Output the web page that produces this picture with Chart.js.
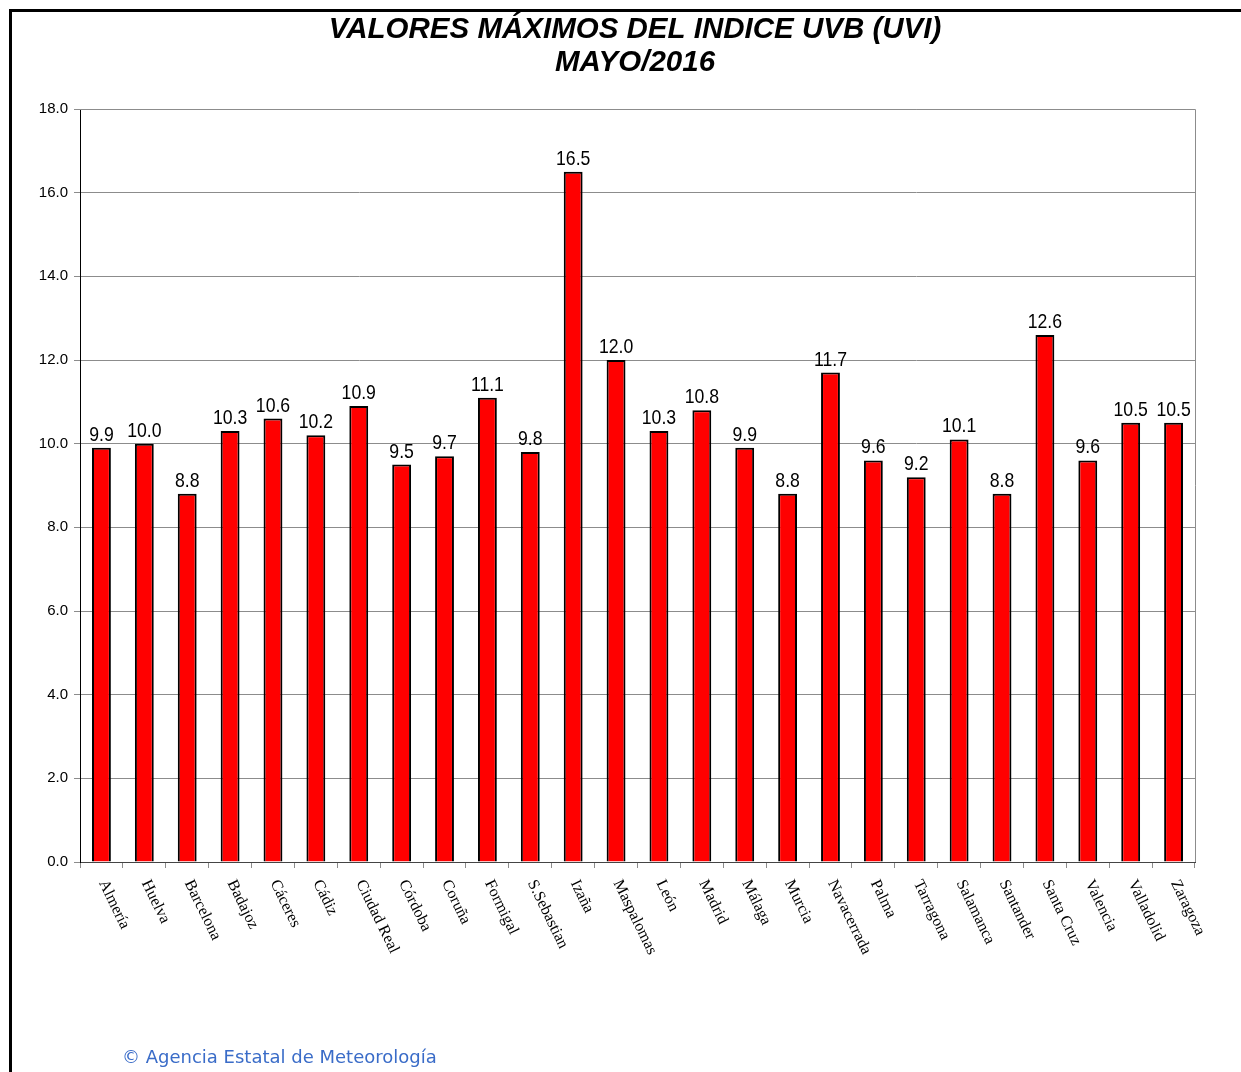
<!DOCTYPE html>
<html>
<head>
<meta charset="utf-8">
<script src="https://cdn.jsdelivr.net/npm/chart.js@4/dist/chart.umd.min.js"></script>
<style>
  body { margin: 0; background: #fff; }
  #wrap { position: relative; width: 1241px; height: 1072px; overflow: hidden; }
  #frame { position: absolute; left: 9px; top: 9px; width: 1240px; height: 1070px;
           border-top: 3px solid #000; border-left: 3px solid #000; }
  #myChart { position: absolute; left: 0; top: 0; }
  #foot { position: absolute; left: 122px; top: 1046px; font: 18px "DejaVu Sans", sans-serif;
          color: #3a6cc8; }
</style>
</head>
<body>
<div id="wrap">
  <div id="frame"></div>
  <canvas id="myChart" width="1241" height="1072"></canvas>
  <div id="foot">&copy; Agencia Estatal de Meteorología</div>
</div>
<script>
/*----data----*/
const stations = ["Almería","Huelva","Barcelona","Badajoz","Cáceres","Cádiz","Ciudad Real","Córdoba","Coruña","Formigal","S.Sebastian","Izaña","Maspalomas","León","Madrid","Málaga","Murcia","Navacerrada","Palma","Tarragona","Salamanca","Santander","Santa Cruz","Valencia","Valladolid","Zaragoza"];
const uviMax = [9.9,10.0,8.8,10.3,10.6,10.2,10.9,9.5,9.7,11.1,9.8,16.5,12.0,10.3,10.8,9.9,8.8,11.7,9.6,9.2,10.1,8.8,12.6,9.6,10.5,10.5];
const titleLines = ["VALORES MÁXIMOS DEL INDICE UVB (UVI)","MAYO/2016"];

/*----extras drawn on top: title, frame of plot, value labels, station names----*/
const extras = {
  id: "extras",
  afterDraw(chart) {
    const ctx = chart.ctx;
    const area = chart.chartArea;
    const x = chart.scales.x, y = chart.scales.y;
    ctx.save();
    // title
    ctx.fillStyle = "#000";
    ctx.font = "italic bold 29.5px 'Liberation Sans', Arial, sans-serif";
    ctx.textAlign = "center";
    ctx.textBaseline = "middle";
    ctx.fillText(titleLines[0], 635, 30);
    ctx.fillText(titleLines[1], 635, 63);
    // top and right border of plot
    ctx.strokeStyle = "#8c8c8c";
    ctx.lineWidth = 1;
    ctx.beginPath();
    ctx.moveTo(area.left, area.top + 0.5);
    ctx.lineTo(area.right + 0.5, area.top + 0.5);
    ctx.lineTo(area.right + 0.5, area.bottom);
    ctx.stroke();
    // value labels (narrow like the original)
    ctx.font = "21px 'Liberation Sans', Arial, sans-serif";
    ctx.textBaseline = "alphabetic";
    uviMax.forEach(function(v, i){
      ctx.save();
      ctx.translate(x.getPixelForValue(i), y.getPixelForValue(v) - 7);
      ctx.scale(0.84, 1);
      ctx.fillText(v.toFixed(1), 0, 0);
      ctx.restore();
    });
    // station names, rotated clockwise
    ctx.font = "16px 'Liberation Serif', 'Times New Roman', serif";
    ctx.textAlign = "left";
    ctx.textBaseline = "middle";
    stations.forEach(function(s, i){
      ctx.save();
      ctx.translate(x.getPixelForValue(i) + 1, area.bottom + 19);
      ctx.rotate(64 * Math.PI / 180);
      ctx.fillText(s, 0, 0);
      ctx.restore();
    });
    ctx.restore();
  }
};

new Chart("myChart", {
  type: "bar",
  data: {
    labels: stations,
    datasets: [{
      data: uviMax,
      backgroundColor: "#ff0000",
      borderColor: "#000",
      borderWidth: 2,
      categoryPercentage: 1,
      barPercentage: 0.44
    }]
  },
  options: {
    responsive: false,
    animation: false,
    layout: { padding: { top: 109, right: 46, bottom: 200, left: 18 } },
    plugins: { legend: { display: false }, title: { display: false }, tooltip: { enabled: false } },
    scales: {
      x: {
        offset: true,
        grid: { offset: true, drawOnChartArea: false, drawTicks: true, tickLength: 6, color: "#8c8c8c" },
        border: { color: "#444", width: 1 },
        ticks: { display: false },
        afterFit: function(s){ s.height = 10; }
      },
      y: {
        min: 0, max: 18,
        ticks: { stepSize: 2, color: "#000", padding: 6,
                 font: { family: "'Liberation Sans', Arial, sans-serif", size: 15 },
                 callback: function(v){ return v.toFixed(1); } },
        grid: { color: "#8c8c8c", tickLength: 6 },
        border: { color: "#000", width: 1 },
        afterFit: function(s){ s.width = 62; }
      }
    }
  },
  plugins: [extras]
});
</script>
</body>
</html>
